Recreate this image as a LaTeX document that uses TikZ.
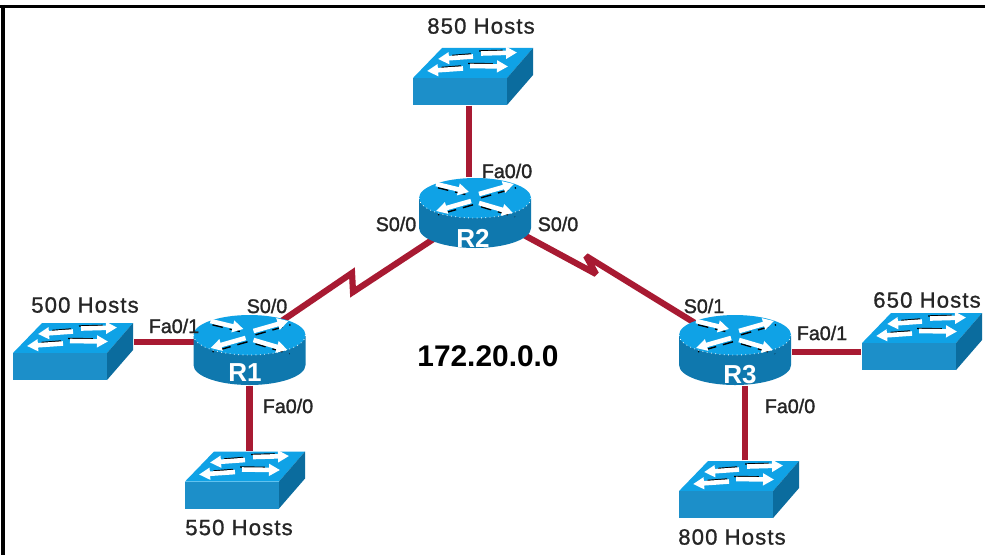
\documentclass[tikz,border=0pt]{standalone}
\usepackage{fontspec}
\setmainfont{Liberation Sans}
\newfontfamily\hostfont[LetterSpace=5,FakeBold=1]{Liberation Sans}
\newfontfamily\portfont[FakeBold=1.5]{Liberation Sans}
\usetikzlibrary{arrows.meta,shapes.geometric}
\definecolor{icontop}{HTML}{0FA2E6}
\definecolor{iconfront}{HTML}{1C8FC9}
\definecolor{iconside}{HTML}{0B6C9E}
\definecolor{routerside}{HTML}{0F78AE}
\definecolor{cablered}{HTML}{A81A32}
\tikzset{
  routerbox/.style={ellipse,minimum width=11.2mm,minimum height=7mm,inner sep=0pt},
  switchbox/.style={rectangle,minimum width=12mm,minimum height=5.7mm,inner sep=0pt},
  cable/.style={cablered,line width=0.62mm},
  hostlabel/.style={inner sep=0pt,text=black!85,font=\fontsize{6.3}{7}\hostfont},
  portlabel/.style={inner sep=0pt,text=black!85,font=\fontsize{5.6}{6}\portfont},
  routerlabel/.style={inner sep=0pt,text=white,font=\fontsize{7.4}{8}\selectfont\bfseries},
  whitearrow/.style={white,line width=0.46mm,-{Triangle[length=1.1mm,width=1.15mm]}},
  blackdash/.style={black,line width=0.14mm,densely dashed}
}
\newcommand{\routericon}[1]{
  \begin{scope}[shift={(#1)},yscale=-1]
    \fill [routerside] (-5.6,-1.5) -- (-5.6,1.5) arc (180:0:5.6 and 2) -- (5.6,-1.5) -- cycle;
    \fill [icontop] (0,-1.5) ellipse (5.6 and 2);
    \draw [white,line width=0.08mm,densely dotted] (-5.6,-1.5) arc (180:0:5.6 and 2);
    \foreach \xa/\ya/\xb/\yb in {-3.9/-2.9/-0.6/-2.1, 0.4/-1.9/3.9/-2.9, -0.4/-1.2/-3.9/-0.2, 0.4/-1.0/3.8/0.0} {
      \draw [blackdash] (\xa+0.2,\ya+0.38) -- (\xb+0.2,\yb+0.38);
      \draw [whitearrow] (\xa,\ya) -- (\xb,\yb);
    }
  \end{scope}
}
\newcommand{\switchicon}[1]{
  \begin{scope}[shift={(#1)},yscale=-1]
    \fill [icontop] (-6,0.15) -- (3.4,0.15) -- (6,-2.85) -- (-3.1,-2.85) -- cycle;
    \fill [iconfront] (-6,0.15) rectangle (3.4,2.85);
    \fill [iconside] (3.4,0.15) -- (6,-2.85) -- (6,-0.15) -- (3.4,2.85) -- cycle;
    \foreach \xa/\ya/\xb/\yb in {0/-2.0/-3.5/-1.75, 0.8/-2.3/4.4/-2.4, -1/-0.8/-4.6/-0.55, -0.3/-1.05/3.5/-1.0} {
      \draw [black,line width=0.14mm] (\xa-0.2,\ya-0.25) -- (\xb*0.6+\xa*0.4,\yb*0.6+\ya*0.4-0.25);
      \draw [whitearrow] (\xa,\ya) -- (\xb,\yb);
    }
  \end{scope}
}
\begin{document}
\begin{tikzpicture}[scale=0.1]
\useasboundingbox (0,0) rectangle (98.5,-55.5);
\fill [white] (0,0) rectangle (98.5,-55.5);
\draw [black,line width=0.25mm] (0,-0.65) -- (98.5,-0.65);
\draw [black,line width=0.4mm] (0.3,-0.5) -- (0.3,-55.5);
\node [routerbox] (R1) at (24.95,-35) {};
\node [routerbox] (R2) at (47.5,-21.3) {};
\node [routerbox] (R3) at (73.5,-35) {};
\node [switchbox] (S850) at (47.3,-7.65) {};
\node [switchbox] (S500) at (7.3,-35.15) {};
\node [switchbox] (S550) at (24.5,-48) {};
\node [switchbox] (S650) at (92.2,-34.15) {};
\node [switchbox] (S800) at (73.9,-48.95) {};
\coordinate (kinkA) at (35.2,-27.3);
\coordinate (kinkB) at (35.3,-29.2);
\coordinate (kinkC) at (59.6,-27.4);
\coordinate (kinkD) at (58.6,-25.6);
\draw [cable] (S850.262) -- (S850.262 |- R2.north);
\draw [cable] (R1.172) -- (R1.172 -| S500.east);
\draw [cable] (R1.south) -- (R1.south |- S550.north);
\draw [cable] (R3.358) -- (R3.358 -| S650.west);
\draw [cable] (S800.78) -- (S800.78 |- R3.south);
\draw [cable,miter limit=3] (R1.42) -- (kinkA) -- (kinkB) -- (R2.212);
\draw [cable,miter limit=3] (R2.-24) -- (kinkC) -- (kinkD) -- (R3.146);
\routericon{R1}
\routericon{R2}
\routericon{R3}
\switchicon{S850}
\switchicon{S500}
\switchicon{S550}
\switchicon{S650}
\switchicon{S800}
\node [routerlabel] (R1name) at (24.5,-37.3) {R1};
\node [routerlabel] (R2name) at (47.3,-23.8) {R2};
\node [routerlabel] (R3name) at (74,-37.5) {R3};
\node [hostlabel] (H850) at (48.1,-2.6) {850 Hosts};
\node [hostlabel] (H500) at (8.5,-30.5) {500 Hosts};
\node [hostlabel] (H550) at (23.9,-52.75) {550 Hosts};
\node [hostlabel] (H650) at (92.7,-30) {650 Hosts};
\node [hostlabel] (H800) at (73.2,-53.7) {800 Hosts};
\node [portlabel] (P2a) at (50.7,-17.1) {Fa0/0};
\node [portlabel] (P2b) at (39.6,-22.4) {S0/0};
\node [portlabel] (P2c) at (55.8,-22.4) {S0/0};
\node [portlabel] (P1a) at (26.7,-30.6) {S0/0};
\node [portlabel] (P1b) at (17.4,-32.6) {Fa0/1};
\node [portlabel] (P1c) at (28.8,-40.6) {Fa0/0};
\node [portlabel] (P3a) at (70.4,-30.6) {S0/1};
\node [portlabel] (P3b) at (82.2,-33.3) {Fa0/1};
\node [portlabel] (P3c) at (79,-40.6) {Fa0/0};
\node [inner sep=0pt,font=\fontsize{8.5}{10}\selectfont\bfseries] (net) at (48.8,-35.6) {172.20.0.0};
\end{tikzpicture}
\end{document}
